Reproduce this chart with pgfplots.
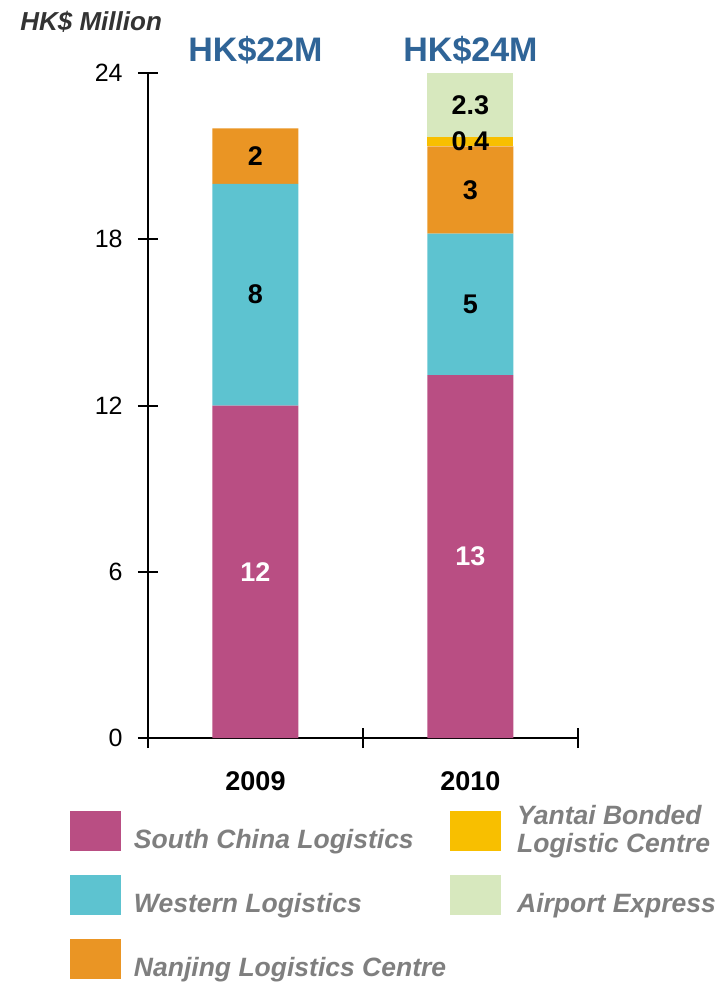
\documentclass[border=0pt]{standalone}
\usepackage{pgfplots}
\pgfplotsset{compat=1.18}
\usepackage{fontspec}
\setmainfont{Liberation Sans}
\definecolor{scl}{HTML}{B94E83}
\definecolor{wl}{HTML}{5DC3D0}
\definecolor{nj}{HTML}{EA9524}
\definecolor{yt}{HTML}{F8BF00}
\definecolor{ae}{HTML}{D7E8BE}
\definecolor{tblue}{HTML}{2F6497}
\definecolor{lgray}{HTML}{7F7F7F}
\definecolor{dgray}{HTML}{333333}
\renewcommand{\arraystretch}{0.86}
\begin{document}
\begin{tikzpicture}
\useasboundingbox (-74pt,-122pt) rectangle (285.5pt,369pt);
\begin{axis}[
  at={(0pt,0pt)}, anchor=south west,
  scale only axis, width=215pt, height=332.5pt,
  ybar stacked, bar width=43pt,
  xmin=0, xmax=2, ymin=0, ymax=24,
  axis x line*=bottom, axis y line*=left,
  axis line style={line width=1pt, black},
  xtick={0,1,2}, xticklabels={,,},
  extra x ticks={0.5,1.5}, extra x tick labels={2009,2010},
  extra x tick style={major tick length=0pt, tick label style={font=\fontsize{13.5}{16}\selectfont\bfseries, anchor=base, inner sep=0pt, yshift=-26pt}},
  ytick={0,6,12,18,24},
  tick align=center, major tick length=10pt,
  tick style={line width=1pt, black},
  yticklabel style={font=\fontsize{12.5}{15}\selectfont, anchor=east, inner sep=0pt, xshift=-7.5pt},
  /pgf/number format/assume math mode=true,
  ylabel={HK\$ Million},
  ylabel style={at={(axis description cs:-0.2977,1.0632)}, rotate=-90, anchor=base west, inner sep=0pt, font=\fontsize{13}{15}\selectfont\bfseries\itshape, text=dgray},
  clip=false,
  point meta=explicit symbolic,
  nodes near coords,
  every node near coord/.append style={anchor=center, font=\fontsize{13.5}{16}\selectfont\bfseries, text=black},
  legend columns=3, transpose legend,
  legend style={at={(-0.1814,-0.1019)}, anchor=north west, draw=none, fill=none, inner sep=0pt, outer sep=0pt,
    row sep=9.5pt, column sep=2pt,
    font=\fontsize{13.25}{15.9}\selectfont\bfseries\itshape,
    cells={anchor=base west},
    nodes={inner sep=0pt, text depth=4pt, text=lgray}},
  legend image code/.code={\fill[#1,draw=none] (0pt,-1.5pt) rectangle (25.5pt,18.5pt); \path (30pt,0pt);},
]
\addplot[fill=scl, draw=none, every node near coord/.append style={text=white}] coordinates {(0.5,12) [12] (1.5,13.1) [13]};
\addlegendentry{South China Logistics}
\addplot[fill=wl, draw=none] coordinates {(0.5,8) [8] (1.5,5.1) [5]};
\addlegendentry{Western Logistics}
\addplot[fill=nj, draw=none] coordinates {(0.5,2) [2] (1.5,3.15) [3]};
\addlegendentry{Nanjing Logistics Centre}
\addplot[fill=yt, draw=none] coordinates {(0.5,0) [] (1.5,0.35) [0.4]};
\addlegendentry{\hspace{1.5pt}\raisebox{-2pt}{\begin{tabular}[b]{@{}l@{}}Yantai Bonded\\Logistic Centre\end{tabular}}}
\addplot[fill=ae, draw=none] coordinates {(0.5,0) [] (1.5,2.3) [2.3]};
\addlegendentry{\hspace{1.5pt}Airport Express}
\node[anchor=base, font=\fontsize{17}{20}\selectfont\bfseries, text=tblue, yshift=5.75pt] at (axis cs:0.5,24) {HK\$22M};
\node[anchor=base, font=\fontsize{17}{20}\selectfont\bfseries, text=tblue, yshift=5.75pt] at (axis cs:1.5,24) {HK\$24M};
\end{axis}
\end{tikzpicture}
\end{document}
